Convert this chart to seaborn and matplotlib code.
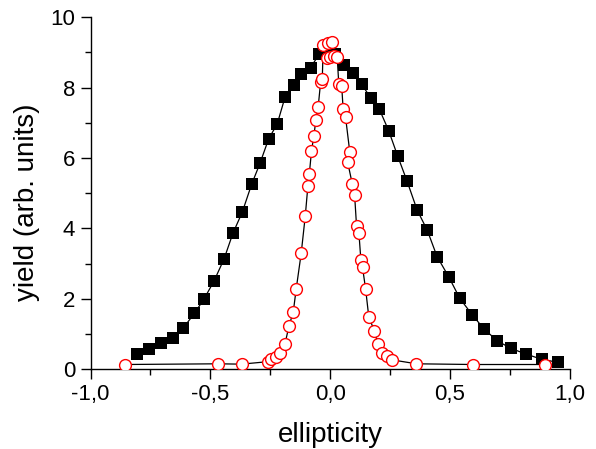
import matplotlib
matplotlib.use("Agg")
import matplotlib.pyplot as plt
import seaborn as sns
import pandas as pd
from matplotlib.ticker import MultipleLocator

# Data
sq_x = [-0.808, -0.755, -0.706, -0.657, -0.613, -0.567, -0.526, -0.485, -0.443, -0.406,
        -0.367, -0.328, -0.293, -0.257, -0.221, -0.188, -0.151, -0.120, -0.082, -0.046,
        -0.012, 0.022, 0.057, 0.094, 0.132, 0.169, 0.205, 0.244, 0.282, 0.321,
        0.363, 0.405, 0.446, 0.495, 0.541, 0.592, 0.642, 0.698, 0.754, 0.816,
        0.882, 0.951]
sq_y = [0.43, 0.57, 0.73, 0.87, 1.17, 1.58, 2.00, 2.50, 3.13, 3.86,
        4.46, 5.25, 5.85, 6.54, 6.97, 7.74, 8.08, 8.39, 8.57, 8.95,
        9.08, 8.95, 8.64, 8.41, 8.09, 7.71, 7.39, 6.78, 6.05, 5.34,
        4.52, 3.95, 3.20, 2.62, 2.01, 1.55, 1.14, 0.80, 0.59, 0.43,
        0.28, 0.19]

ci_x = [-0.856, -0.467, -0.370, -0.261, -0.245, -0.228, -0.209, -0.189, -0.172, -0.154,
        -0.142, -0.121, -0.104, -0.093, -0.087, -0.078, -0.068, -0.060, -0.050, -0.040,
        -0.033, -0.029, -0.015, -0.011, -0.001, 0.008, 0.015, 0.029, 0.036, 0.048,
        0.054, 0.064, 0.082, 0.073, 0.092, 0.102, 0.110, 0.120, 0.128, 0.135,
        0.148, 0.161, 0.184, 0.200, 0.217, 0.238, 0.260, 0.360, 0.594, 0.896]
ci_y = [0.13, 0.15, 0.14, 0.21, 0.28, 0.35, 0.45, 0.71, 1.22, 1.63,
        2.27, 3.29, 4.35, 5.21, 5.55, 6.20, 6.63, 7.07, 7.46, 8.15,
        8.24, 9.21, 8.83, 9.26, 8.86, 9.30, 8.90, 8.88, 8.10, 8.05,
        7.40, 7.17, 6.16, 5.88, 5.27, 4.94, 4.07, 3.86, 3.11, 2.89,
        2.27, 1.49, 1.09, 0.70, 0.46, 0.38, 0.26, 0.15, 0.13, 0.13]

xticks = [-1.0, -0.5, 0.0, 0.5, 1.0]
xticklabels = ["-1,0", "-0,5", "0,0", "0,5", "1,0"]
yticks = [0, 2, 4, 6, 8, 10]
yticklabels = ["0", "2", "4", "6", "8", "10"]

sns.set_theme(style="ticks")
plt.rcParams['font.family'] = ['Liberation Sans', 'DejaVu Sans']

fig = plt.figure(figsize=(5.96, 4.49), dpi=100)
ax = fig.add_axes([0.152, 0.178, 0.804, 0.7835])

df_sq = pd.DataFrame({"x": sq_x, "y": sq_y})
df_ci = pd.DataFrame({"x": ci_x, "y": ci_y})

sns.lineplot(data=df_sq, x="x", y="y", sort=False, ax=ax, color="black", lw=0.9,
             marker="s", markersize=8.8, markerfacecolor="black", markeredgecolor="black",
             markeredgewidth=0, zorder=2)
sns.lineplot(data=df_ci, x="x", y="y", sort=False, ax=ax, color="black", lw=0.9,
             marker="o", markersize=8.5, markerfacecolor="white", markeredgecolor="red",
             markeredgewidth=1.0, zorder=3)

ax.set_xlim(-1.0, 1.0)
ax.set_ylim(0, 10)
ax.set_xticks(xticks)
ax.set_xticklabels(xticklabels)
ax.set_yticks(yticks)
ax.set_yticklabels(yticklabels)
ax.xaxis.set_minor_locator(MultipleLocator(0.25))
ax.yaxis.set_minor_locator(MultipleLocator(1))
ax.tick_params(which="major", direction="out", length=7, width=1, labelsize=16,
               pad=4, color="black", labelcolor="black")
ax.tick_params(which="minor", direction="out", length=4, width=1, color="black")
ax.set_xlabel("ellipticity", fontsize=20, color="black", labelpad=12)
ax.set_ylabel("yield (arb. units)", fontsize=20, color="black")
ax.yaxis.set_label_coords(-0.105, 0.474)
for s in ["top", "right"]:
    ax.spines[s].set_visible(False)
for s in ["left", "bottom"]:
    ax.spines[s].set_color("black")
    ax.spines[s].set_linewidth(1)

fig.savefig("out.png", dpi=100)
